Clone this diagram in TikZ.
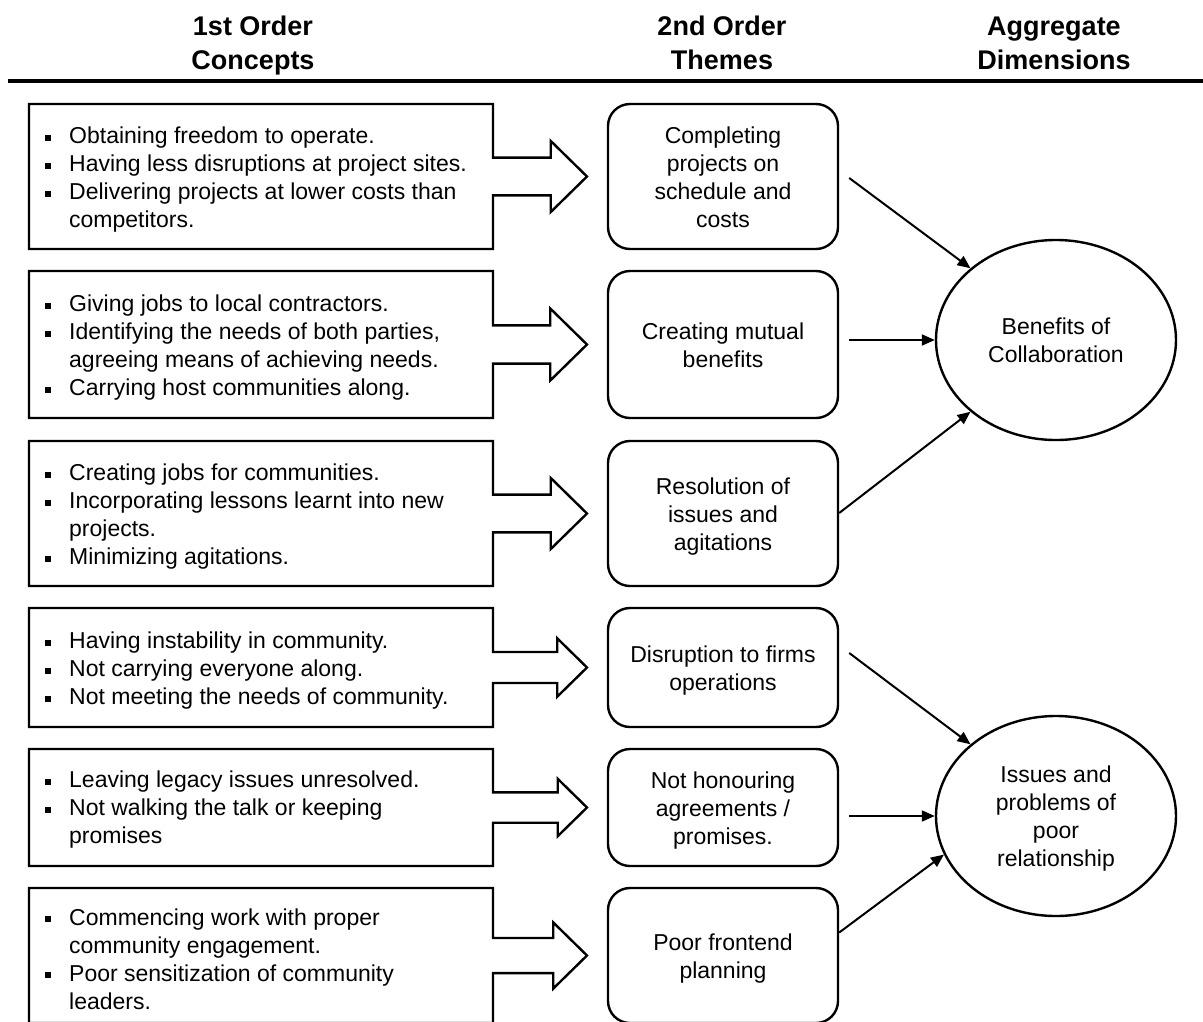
\documentclass[tikz,border=0pt]{standalone}
\usepackage{fontspec}
\setmainfont{Liberation Sans}
\usetikzlibrary{shapes.geometric,arrows.meta}

\tikzset{
  head/.style={font=\bfseries\fontsize{27}{34}\selectfont, align=center, inner sep=0pt},
  concept/.style={font=\fontsize{23}{28}\selectfont, align=left, inner sep=0pt, anchor=west},
  outline/.style={draw, line width=2.4pt, line join=miter},
  theme/.style={draw, line width=2.4pt, rounded corners=22pt, minimum width=230pt,
    font=\fontsize{23}{28}\selectfont, inner sep=0pt},
  dimension/.style={draw, ellipse, line width=2.4pt, minimum width=240pt, minimum height=200pt,
    inner sep=0pt, font=\fontsize{23}{28}\selectfont},
  link/.style={line width=2pt, -{Triangle[length=13pt,width=11pt]}},
}

% bullet and continuation indent for the concept lists
\newcommand{\bl}{\makebox[24pt][l]{\rule[3pt]{6pt}{6pt}}}
\newcommand{\cl}{\hspace*{24pt}}
% centred block of lines, set a little below the middle of its box
\newcommand{\dropped}[1]{\raisebox{-3pt}[\height][\depth]{\begin{tabular}{@{}c@{}}#1\end{tabular}}}

% rectangular frame whose right side turns into a block arrow; #1 top row, #2 bottom row
\newcommand{\conceptframe}[2]{%
  \pgfmathsetmacro{\cy}{(#1+#2)/2}%
  \pgfmathsetmacro{\sw}{0.13*(#2-#1)}%
  \pgfmathsetmacro{\hw}{0.245*(#2-#1)}%
  \pgfmathsetmacro{\hb}{587-0.25*(#2-#1)}%
  \draw[outline] (29,#1) -- (493,#1) -- (493,\cy-\sw) -- (\hb,\cy-\sw) -- (\hb,\cy-\hw)
    -- (587,\cy) -- (\hb,\cy+\hw) -- (\hb,\cy+\sw) -- (493,\cy+\sw) -- (493,#2)
    -- (29,#2) -- cycle;
}

\begin{document}
\begin{tikzpicture}[x=1pt, y=-1pt]
\useasboundingbox (0,0) rectangle (1203,1021);
\clip (0,0) rectangle (1203,1021);

% column headings
\node[head] (h1) at (253,46) {1st Order\\Concepts};
\node[head] (h2) at (722,43) {2nd Order\\Themes};
\node[head] (h3) at (1054,43) {Aggregate\\Dimensions};
\draw[line width=4pt] (8,81) -- (1203,81);

% first-order concept frames
\conceptframe{104}{249}
\conceptframe{271}{418}
\conceptframe{441}{586}
\conceptframe{608}{727}
\conceptframe{749}{866}
\conceptframe{888}{1023}

\node[concept] (c1) at (45,180) {\bl Obtaining freedom to operate.\\ \bl Having less disruptions at project sites.\\ \bl Delivering projects at lower costs than\\ \cl competitors.};
\node[concept] (c2) at (45,348) {\bl Giving jobs to local contractors.\\ \bl Identifying the needs of both parties,\\ \cl agreeing means of achieving needs.\\ \bl Carrying host communities along.};
\node[concept] (c3) at (45,517) {\bl Creating jobs for communities.\\ \bl Incorporating lessons learnt into new\\ \cl projects.\\ \bl Minimizing agitations.};
\node[concept] (c4) at (45,671) {\bl Having instability in community.\\ \bl Not carrying everyone along.\\ \bl Not meeting the needs of community.};
\node[concept] (c5) at (45,810) {\bl Leaving legacy issues unresolved.\\ \bl Not walking the talk or keeping\\ \cl promises};
\node[concept] (c6) at (45,959) {\bl Commencing work with proper\\ \cl community engagement.\\ \bl Poor sensitization of community\\ \cl leaders.};

% second-order themes
\node[theme, minimum height=145pt] (t1) at (723,176.5) {\dropped{Completing\\projects on\\schedule and\\costs}};
\node[theme, minimum height=147pt] (t2) at (723,344.5) {\dropped{Creating mutual\\benefits}};
\node[theme, minimum height=145pt] (t3) at (723,513.5) {\dropped{Resolution of\\issues and\\agitations}};
\node[theme, minimum height=119pt] (t4) at (723,667.5) {\dropped{Disruption to firms\\operations}};
\node[theme, minimum height=117pt] (t5) at (723,807.5) {\dropped{Not honouring\\agreements /\\promises.}};
\node[theme, minimum height=135pt] (t6) at (723,955.5) {\dropped{Poor frontend\\planning}};

% aggregate dimensions
\node[dimension] (b1) at (1056,340) {\dropped{Benefits of\\Collaboration}};
\node[dimension] (b2) at (1056,816) {\dropped{Issues and\\problems of\\poor\\relationship}};

% links from themes to dimensions
\draw[link] ([shift={(10,1.5)}]t1.east) -- (b1.140);
\draw[link] ([shift={(10,-4.5)}]t2.east) -- (b1.west);
\draw[link] ([shift={(0,-0.5)}]t3.east) -- (b1.220);
\draw[link] ([shift={(10,-14.5)}]t4.east) -- (b2.140);
\draw[link] ([shift={(10,8.5)}]t5.east) -- (b2.west);
\draw[link] ([shift={(0,-23)}]t6.east) -- (b2.199);
\end{tikzpicture}
\end{document}
